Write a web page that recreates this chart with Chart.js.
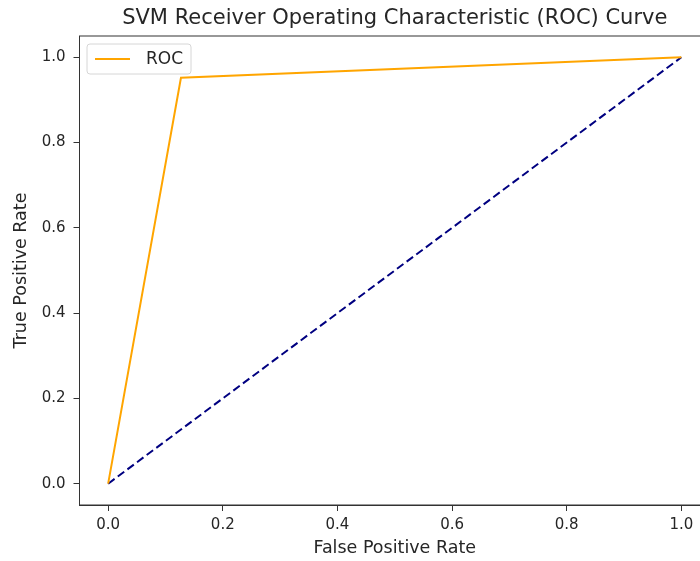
<!DOCTYPE html>
<html>
<head>
<meta charset="utf-8">
<script src="https://cdn.jsdelivr.net/npm/chart.js@4.4.1/dist/chart.umd.min.js"></script>
<style>
  html, body { margin: 0; padding: 0; background: #fff; overflow: hidden; }
  #wrap { width: 700px; height: 561px; overflow: hidden; position: relative; }
  #box { width: 712px; height: 561px; position: absolute; left: 0; top: 0; }
</style>
</head>
<body>
<div id="wrap"><div id="box"><canvas id="rocChart"></canvas></div></div>
<script>
// ROC curve values
const fpr = [0, 0.127, 1];
const tpr = [0, 0.952, 1];
// chance line
const chanceX = [0, 1];
const chanceY = [0, 1];
const tickValues = [0, 0.2, 0.4, 0.6, 0.8, 1.0];

const titleText = 'SVM Receiver Operating Characteristic (ROC) Curve';
const FONT = "'DejaVu Sans', sans-serif";
const TXT = '#262626';

// four spines, title and the in-axes legend
const frameAndLegend = {
  id: 'frameAndLegend',
  afterDraw(chart) {
    const { ctx, chartArea: a } = chart;
    ctx.save();
    ctx.strokeStyle = '#333';
    ctx.lineWidth = 1;
    ctx.strokeRect(a.left, a.top, a.right - a.left, a.bottom - a.top);

    ctx.fillStyle = TXT;
    ctx.font = `21px ${FONT}`;
    ctx.textAlign = 'center';
    ctx.textBaseline = 'alphabetic';
    ctx.fillText(titleText, (a.left + a.right) / 2, 24);

    // legend
    const lx = 87, ly = 44, lw = 104, lh = 30;
    ctx.fillStyle = 'rgba(255,255,255,0.8)';
    ctx.strokeStyle = '#d6d6d6';
    ctx.beginPath();
    ctx.roundRect(lx, ly, lw, lh, 3);
    ctx.fill();
    ctx.stroke();
    ctx.strokeStyle = chart.data.datasets[0].borderColor;
    ctx.lineWidth = 2;
    ctx.beginPath();
    ctx.moveTo(95, ly + lh / 2);
    ctx.lineTo(130, ly + lh / 2);
    ctx.stroke();
    ctx.fillStyle = TXT;
    ctx.font = `17px ${FONT}`;
    ctx.textAlign = 'left';
    ctx.textBaseline = 'middle';
    ctx.fillText(chart.data.datasets[0].label, 146, ly + lh / 2 + 0.5);
    ctx.restore();
  }
};

function initChart() {
  const ctx = document.getElementById('rocChart').getContext('2d');
  new Chart(ctx, {
    type: 'scatter',
    data: {
      datasets: [{
        label: 'ROC',
        data: fpr.map((x, i) => ({ x, y: tpr[i] })),
        showLine: true,
        borderColor: '#ffa500',
        borderWidth: 2,
        pointRadius: 0,
        fill: false,
        tension: 0
      }, {
        label: 'chance',
        data: chanceX.map((x, i) => ({ x, y: chanceY[i] })),
        showLine: true,
        borderColor: '#000080',
        borderWidth: 2,
        borderDash: [8, 4],
        pointRadius: 0,
        fill: false,
        tension: 0
      }]
    },
    options: {
      responsive: true,
      maintainAspectRatio: false,
      animation: false,
      layout: { padding: { top: 36, right: 2, left: 0, bottom: 0 } },
      plugins: {
        legend: { display: false },
        tooltip: { enabled: false }
      },
      scales: {
        x: {
          type: 'linear',
          min: -0.05,
          max: 1.05,
          afterBuildTicks: (scale) => { scale.ticks = tickValues.map(v => ({ value: v })); },
          afterFit: (scale) => { scale.height = 56; },
          grid: { drawOnChartArea: false, drawTicks: true, tickLength: 6, color: '#333' },
          border: { display: true, color: '#333' },
          ticks: {
            color: TXT,
            padding: 5,
            maxRotation: 0,
            font: { family: FONT, size: 15 },
            callback: v => v.toFixed(1)
          },
          title: {
            display: true,
            text: 'False Positive Rate',
            color: TXT,
            font: { family: FONT, size: 17.5 },
            padding: { top: 0, bottom: 2 }
          }
        },
        y: {
          type: 'linear',
          min: -0.05,
          max: 1.05,
          afterBuildTicks: (scale) => { scale.ticks = tickValues.map(v => ({ value: v })); },
          afterFit: (scale) => { scale.width = 79.5; },
          grid: { drawOnChartArea: false, drawTicks: true, tickLength: 6, color: '#333' },
          border: { display: true, color: '#333' },
          ticks: {
            color: TXT,
            padding: 8,
            font: { family: FONT, size: 15 },
            callback: v => v.toFixed(1)
          },
          title: {
            display: true,
            text: 'True Positive Rate',
            color: TXT,
            font: { family: FONT, size: 17.5 },
            padding: { top: 11, bottom: 0 }
          }
        }
      }
    },
    plugins: [frameAndLegend]
  });
}

window.addEventListener('load', initChart);
</script>
</body>
</html>
